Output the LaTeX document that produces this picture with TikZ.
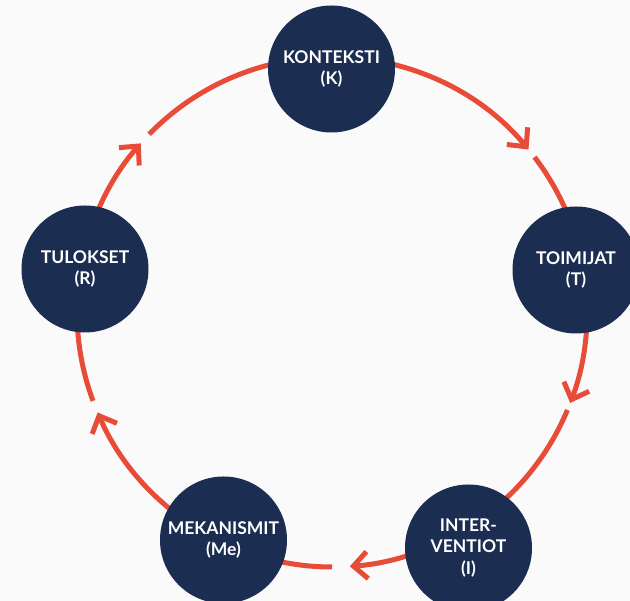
\documentclass[tikz,border=0pt]{standalone}
\usepackage{fontspec}
\setmainfont{Lato}
\usetikzlibrary{arrows.meta}
\definecolor{navy}{HTML}{1C2D52}
\definecolor{flowred}{HTML}{E84B37}
\definecolor{bgcol}{HTML}{FAFAFB}
\pgfdeclarelayer{background}
\pgfsetlayers{background,main}
\begin{document}
\begin{tikzpicture}[x=1pt,y=1pt,
  stage/.style={circle, fill=navy, minimum size=127pt, inner sep=0pt, text=white, align=center,
    font=\fontsize{17.5}{21.5}\selectfont\bfseries},
  flow/.style={draw=flowred, line width=5pt},
  tipped/.style={-{Straight Barb[length=14pt,width=27pt]}}]
\useasboundingbox (0,0) rectangle (630,601);
\clip (0,0) rectangle (630,601);
\coordinate (c) at (332,289);
\node[stage] (K)  at (331.5,532) {KONTEKSTI\\(K)};
\node[stage] (T)  at (576,331)   {TOIMIJAT\\(T)};
\node[stage] (I)  at (468.5,53)  {INTER-\\VENTIOT\\(I)};
\node[stage] (Me) at (223.5,61)  {MEKANISMIT\\(Me)};
\node[stage] (R)  at (85,332)    {TULOKSET\\(R)};
\begin{pgfonlayer}{background}
\fill[bgcol] (0,0) rectangle (630,601);
% K -> T
\draw[flow,tipped] (c) ++(90:255pt) arc[start angle=90, end angle=39.6, radius=255pt];
\draw[flow] (c) ++(37.4:255pt) arc[start angle=37.4, end angle=9.8, radius=255pt];
% T -> I
\draw[flow,tipped] (c) ++(9.8:255pt) arc[start angle=9.8, end angle=-20.9, radius=255pt];
\draw[flow] (c) ++(-22.6:255pt) arc[start angle=-22.6, end angle=-60.7, radius=255pt];
% I -> Me
\draw[flow,tipped] (c) ++(-60.7:255pt) arc[start angle=-60.7, end angle=-86, radius=255pt];
\draw[flow] (c) ++(-90:255pt) arc[start angle=-90, end angle=-115.4, radius=255pt];
% Me -> R
\draw[flow,tipped] (c) ++(-115.4:255pt) arc[start angle=-115.4, end angle=-156.8, radius=255pt];
\draw[flow] (c) ++(-159.6:255pt) arc[start angle=-159.6, end angle=-189.9, radius=255pt];
% R -> K
\draw[flow,tipped] (c) ++(170.1:255pt) arc[start angle=170.1, end angle=138.6, radius=255pt];
\draw[flow] (c) ++(135.8:255pt) arc[start angle=135.8, end angle=90, radius=255pt];
\end{pgfonlayer}
\end{tikzpicture}
\end{document}
